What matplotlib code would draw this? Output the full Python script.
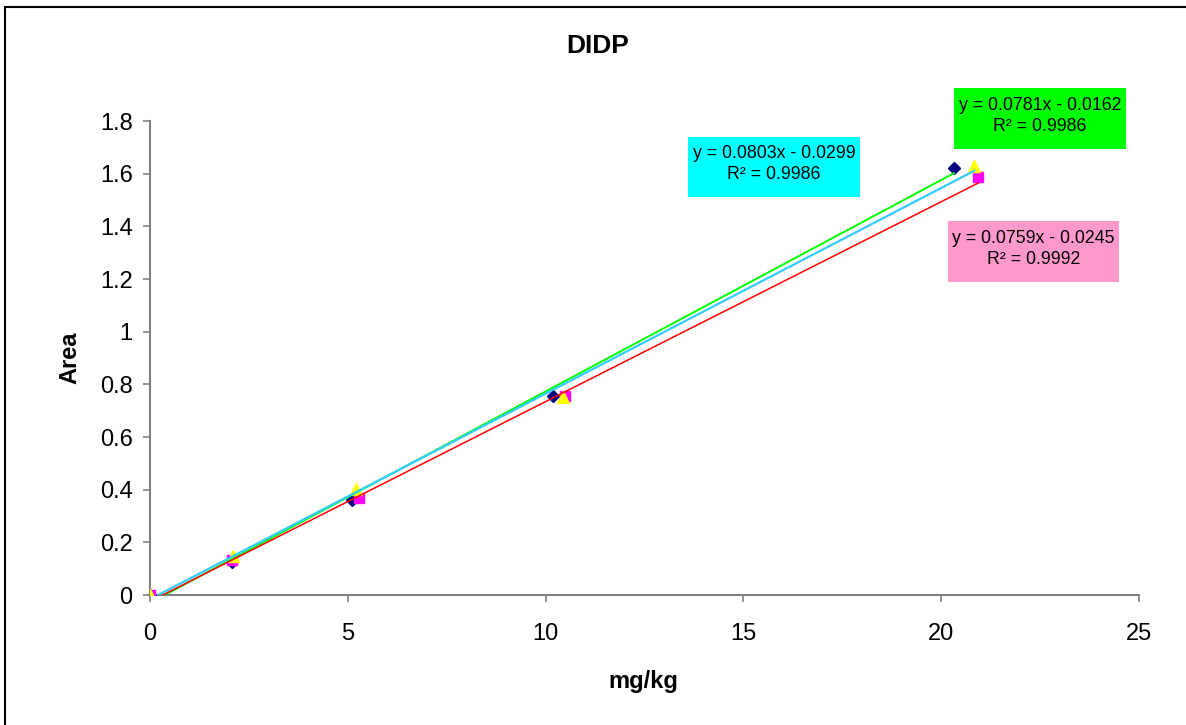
import matplotlib
matplotlib.use("Agg")
import numpy as np
import matplotlib.pyplot as plt
from matplotlib.patches import Rectangle

plt.rcParams['font.family'] = ['Liberation Sans', 'DejaVu Sans']

# data
x_diamond = [0, 2.06, 5.10, 10.18, 20.32]
y_diamond = [0, 0.127, 0.361, 0.757, 1.621]
x_square = [0, 2.06, 5.27, 10.49, 20.94]
y_square = [0, 0.133, 0.367, 0.757, 1.589]
x_triangle = [0, 2.10, 5.21, 10.45, 20.83]
y_triangle = [0, 0.148, 0.401, 0.753, 1.630]

# trendline coefficients (slope, intercept) shown in the labels
fit_diamond = (0.0803, -0.0299)
fit_square = (0.0759, -0.0245)
fit_triangle = (0.0781, -0.0162)
r2_diamond = 0.9986
r2_square = 0.9992
r2_triangle = 0.9986

fig = plt.figure(figsize=(11.86, 7.25), dpi=100)
ax = fig.add_axes([0.1265, 0.1793, 0.8339, 0.6538])

ax.plot(x_diamond, y_diamond, linestyle='none', marker='D', markersize=6.5,
        color='#000080', zorder=3)
ax.plot(x_square, y_square, linestyle='none', marker='s', markersize=7.5,
        color='#FF00FF', zorder=3)
ax.plot(x_triangle, y_triangle, linestyle='none', marker='^', markersize=9,
        color='#FFFF00', zorder=3)

# trendlines over the data range
for xs, (m, b), col, lw in [(x_diamond, fit_diamond, '#00FF00', 1.4),
                            (x_triangle, fit_triangle, '#33CCFF', 1.6),
                            (x_square, fit_square, '#FF0000', 1.1)]:
    xx = np.array([0, max(xs)])
    ax.plot(xx, m * xx + b, color=col, linewidth=lw, zorder=4)

ax.set_xlim(0, 25)
ax.set_ylim(0, 1.8)
ax.set_xticks([0, 5, 10, 15, 20, 25])
ax.set_yticks([0, 0.2, 0.4, 0.6, 0.8, 1.0, 1.2, 1.4, 1.6, 1.8])
ax.set_yticklabels(['0', '0.2', '0.4', '0.6', '0.8', '1', '1.2', '1.4', '1.6', '1.8'])
ax.set_xticklabels(['0', '5', '10', '15', '20', '25'])
for s in ['top', 'right']:
    ax.spines[s].set_visible(False)
for s in ['left', 'bottom']:
    ax.spines[s].set_color('#808080')
    ax.spines[s].set_linewidth(1.5)
ax.tick_params(direction='out', length=5, width=1.2, color='#808080', labelsize=17)
ax.tick_params(axis='x', pad=15)
ax.tick_params(axis='y', pad=7.5)

ax.set_xlabel('mg/kg', fontsize=17, fontweight='bold')
ax.set_ylabel('Area', fontsize=17, fontweight='bold')
ax.xaxis.set_label_coords(0.4985, -0.158)
ax.yaxis.set_label_coords(-0.069, 0.5)
fig.text(0.504, 1 - 46 / 725, 'DIDP', fontsize=19, fontweight='bold', ha='center', va='center')

def eq_label(m, b, r2):
    sign = '-' if b < 0 else '+'
    return f"y = {m:.4f}x {sign} {abs(b):.4f}\nR\u00b2 = {r2:.4f}"

def box(x0, y0, x1, y1, color, text):
    fx0, fx1 = x0 / 1186, x1 / 1186
    fy0, fy1 = 1 - y1 / 725, 1 - y0 / 725
    fig.add_artist(Rectangle((fx0, fy0), fx1 - fx0, fy1 - fy0, transform=fig.transFigure,
                             facecolor=color, edgecolor='none', zorder=5))
    fig.text((fx0 + fx1) / 2, (fy0 + fy1) / 2 + 0.004, text, fontsize=12.8, ha='center',
             va='center', linespacing=1.3, zorder=6)

box(954, 88, 1126, 149, '#00FF00', eq_label(*fit_triangle, r2_triangle))
box(688, 137, 860, 197, '#00FFFF', eq_label(*fit_diamond, r2_diamond))
box(948, 221, 1119, 282, '#FF99CC', eq_label(*fit_square, r2_square))

# outer chart frame
fig.add_artist(Rectangle((5 / 1186, -0.1), 1.2, 1.1 - 7 / 725,
                         transform=fig.transFigure, facecolor='none',
                         edgecolor='black', linewidth=1.5))

fig.savefig('out.png', dpi=100)
